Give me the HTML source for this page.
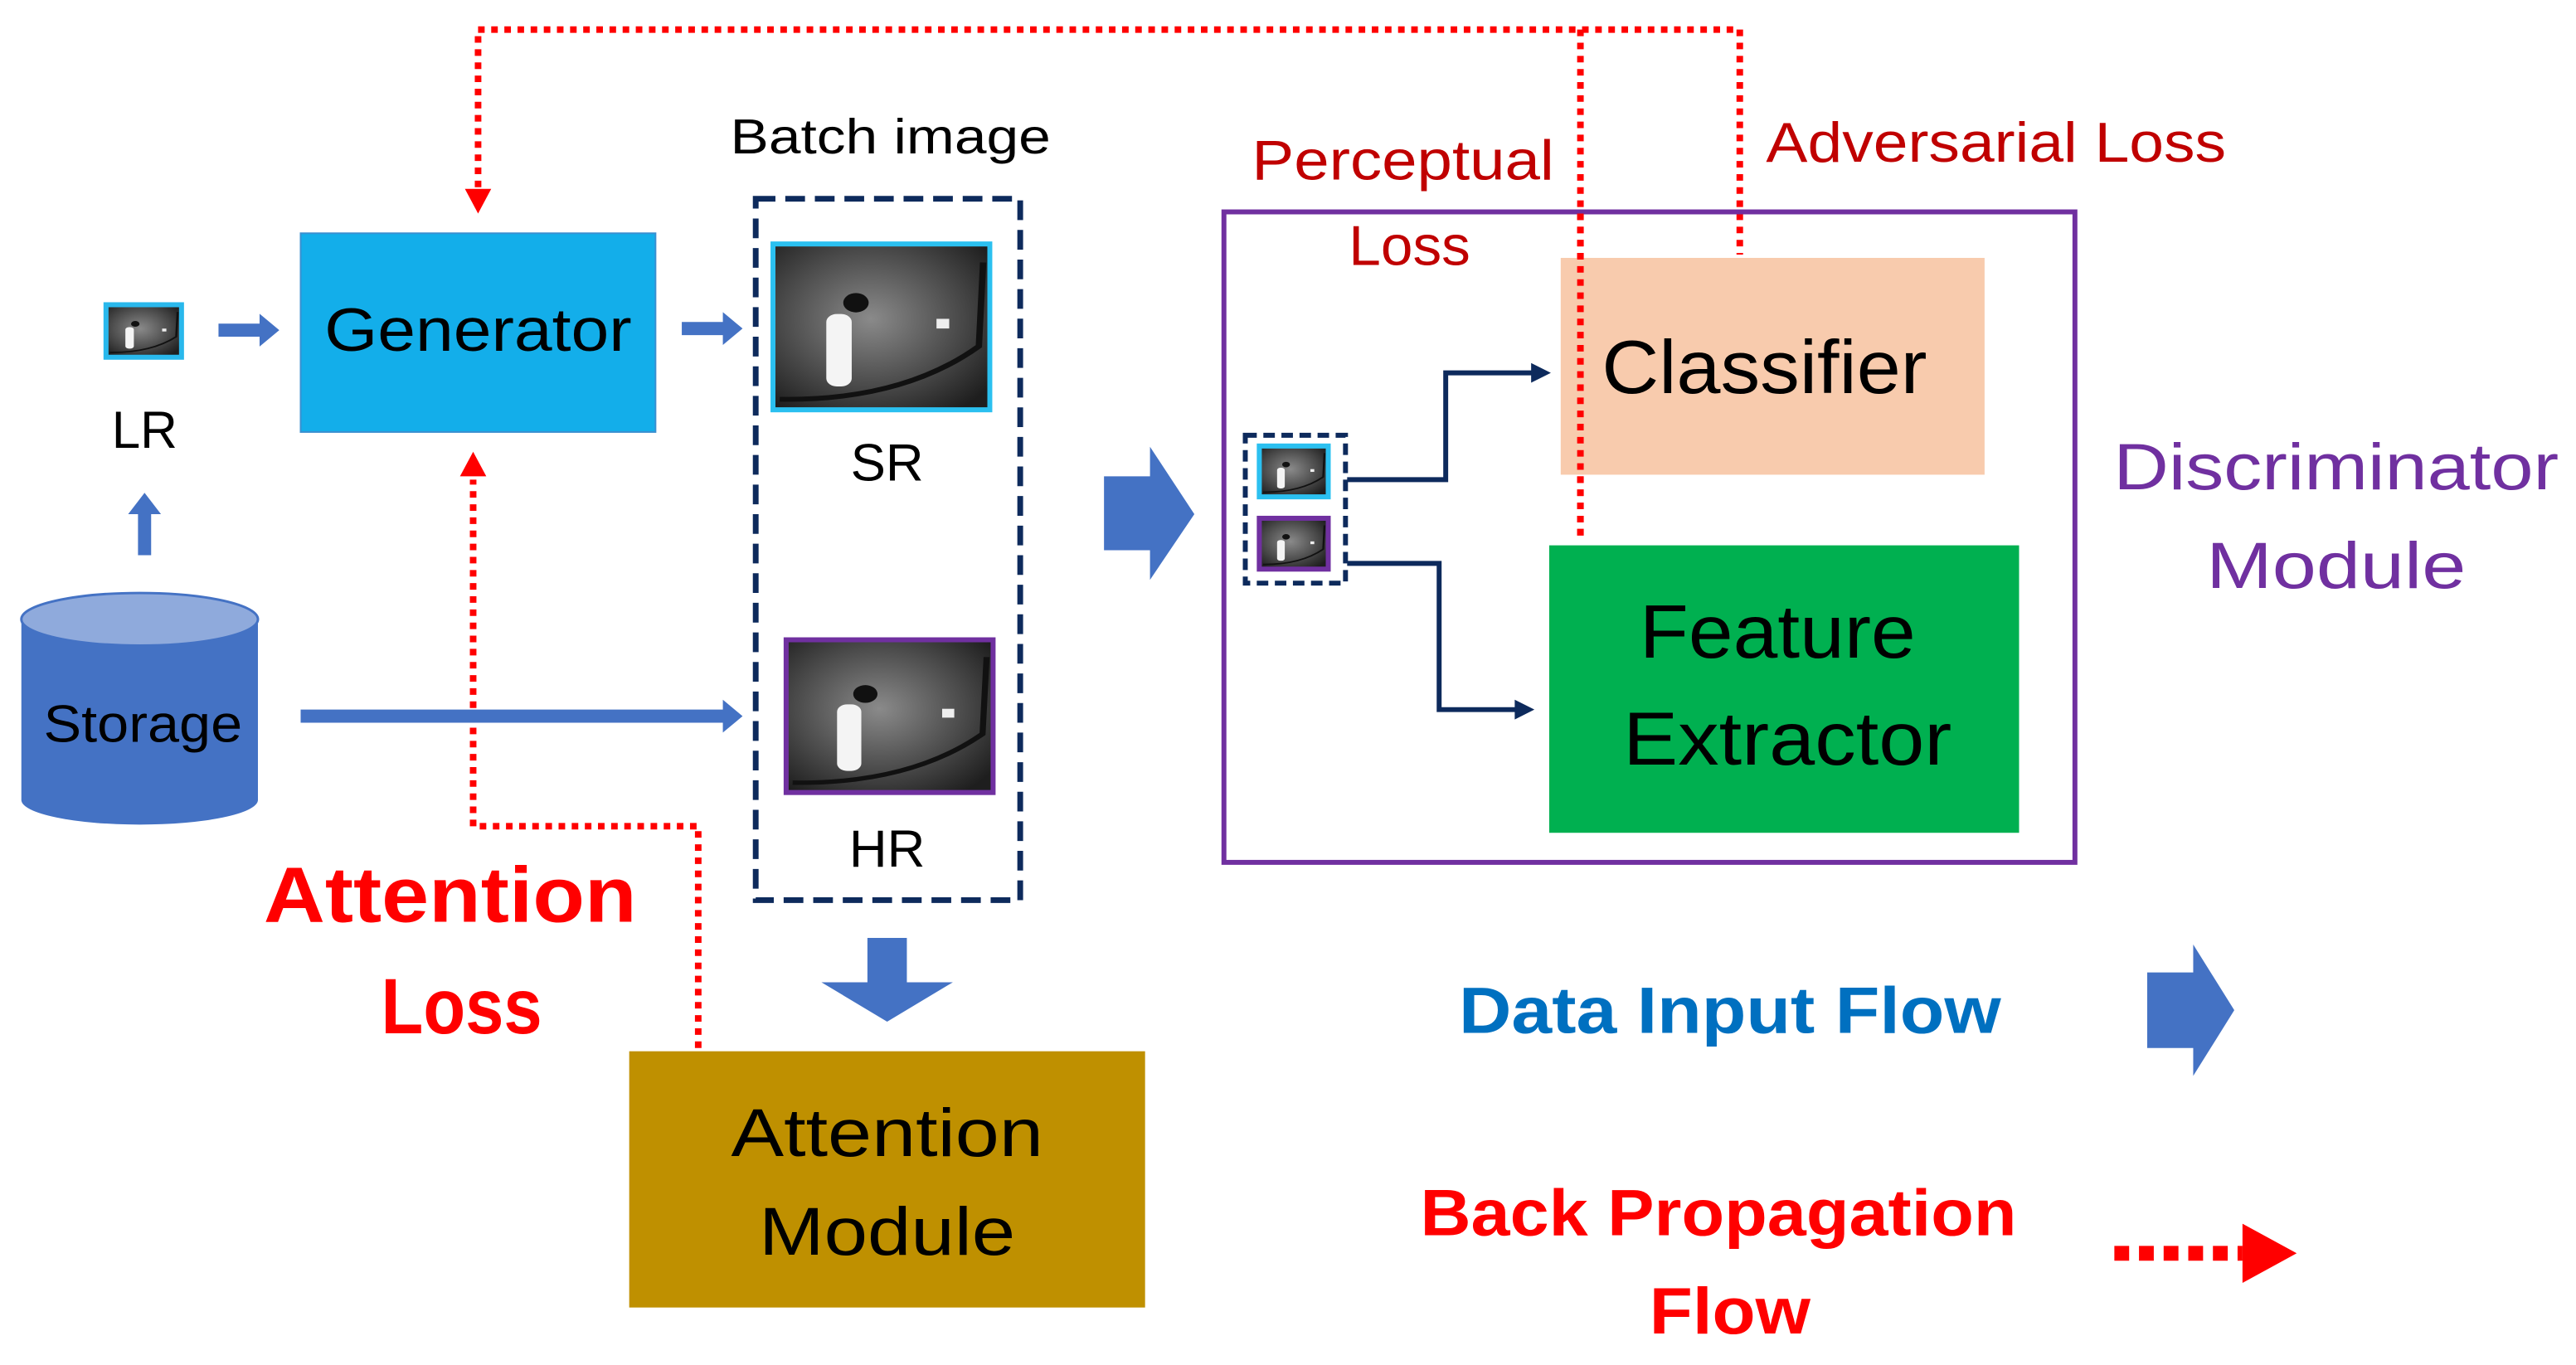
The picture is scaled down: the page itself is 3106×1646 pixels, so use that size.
<!DOCTYPE html>
<html><head><meta charset="utf-8"><style>
html,body{margin:0;padding:0;background:#fff;}
svg{display:block;}
text{font-family:"Liberation Sans",sans-serif;text-anchor:middle;dominant-baseline:central;}
</style></head><body>
<svg width="3106" height="1646" viewBox="0 0 1568 831" preserveAspectRatio="none" xmlns="http://www.w3.org/2000/svg">
<defs>
<radialGradient id="eye" cx="0.45" cy="0.45" r="0.7">
<stop offset="0" stop-color="#8a8a8a"/><stop offset="0.6" stop-color="#4a4a4a"/><stop offset="1" stop-color="#1e1e1e"/>
</radialGradient>
<g id="eyeimg">
<rect x="0" y="0" width="100" height="100" fill="url(#eye)"/>
<circle cx="38" cy="35" r="6" fill="#111"/>
<rect x="24" y="42" width="12" height="45" rx="5" fill="#f4f4f4"/>
<rect x="76" y="45" width="6" height="6" fill="#eee"/>
<path d="M2 95 Q60 96 96 62 L98 10" stroke="#111" stroke-width="3" fill="none"/>
</g>
</defs>
<rect width="1568" height="831" fill="#fff"/>

<g stroke="#ff0000" stroke-width="4" stroke-dasharray="4 4" fill="none">
<polyline points="291,122 291,18 1059,18 1059,155"/>
<line x1="962" y1="18" x2="962" y2="328"/>
<polyline points="425,638 425,503 288,503 288,292"/>
<line x1="1287" y1="763" x2="1365" y2="763" stroke-width="9" stroke-dasharray="9 6"/>
</g>
<polygon points="283,115 299,115 291,130" fill="#ff0000"/>
<polygon points="280,290 296,290 288,275" fill="#ff0000"/>
<polygon points="1365,745 1365,781 1398,763" fill="#ff0000"/>

<rect x="63" y="184" width="49" height="35" fill="#29b8ec"/>
<svg x="66" y="187" width="43" height="29" viewBox="0 0 100 100" preserveAspectRatio="none"><use href="#eyeimg"/></svg>
<text x="88" y="262" font-size="32" fill="#000" textLength="40" lengthAdjust="spacingAndGlyphs">LR</text>
<polygon points="133,197 158,197 158,191 170,201 158,211 158,205 133,205" fill="#4472c4"/>
<polygon points="84,338 92,338 92,313 98,313 88,300 78,313 84,313" fill="#4472c4"/>

<rect x="183" y="142" width="216" height="121" fill="#13aeea" stroke="#3a8fd0" stroke-width="1"/>
<text x="291" y="201" font-size="37" fill="#000" textLength="187" lengthAdjust="spacingAndGlyphs">Generator</text>
<polygon points="415,196 440,196 440,190 452,200 440,210 440,204 415,204" fill="#4472c4"/>

<path d="M13 377 L13 487 A72 15 0 0 0 157 487 L157 377" fill="#4472c4"/>
<ellipse cx="85" cy="377" rx="72" ry="16" fill="#8faadc" stroke="#4472c4" stroke-width="1.5"/>
<text x="87" y="441" font-size="32" fill="#000" textLength="121" lengthAdjust="spacingAndGlyphs">Storage</text>
<polygon points="183,432 440,432 440,426 452,436 440,446 440,440 183,440" fill="#4472c4"/>

<text x="542" y="83" font-size="30" fill="#000" textLength="195" lengthAdjust="spacingAndGlyphs">Batch image</text>
<rect x="460" y="121" width="161" height="427" fill="none" stroke="#0d2a5c" stroke-width="3.5" stroke-dasharray="12 6"/>
<rect x="469" y="147" width="135" height="104" fill="#2bc0f0"/>
<svg x="472" y="150" width="129" height="98" viewBox="0 0 100 100" preserveAspectRatio="none"><use href="#eyeimg"/></svg>
<text x="540" y="282" font-size="32" fill="#000">SR</text>
<rect x="477" y="388" width="129" height="96" fill="#7030a0"/>
<svg x="480" y="391" width="123" height="90" viewBox="0 0 100 100" preserveAspectRatio="none"><use href="#eyeimg"/></svg>
<text x="540" y="517" font-size="32" fill="#000">HR</text>
<polygon points="528,571 552,571 552,598 580,598 540,622 500,598 528,598" fill="#4472c4"/>

<rect x="383" y="640" width="314" height="156" fill="#bf9000"/>
<text x="540" y="690" font-size="41" fill="#000" textLength="190" lengthAdjust="spacingAndGlyphs">Attention</text>
<text x="540" y="750" font-size="41" fill="#000" textLength="156" lengthAdjust="spacingAndGlyphs">Module</text>
<text x="274" y="545" font-size="48" font-weight="bold" fill="#ff0000" textLength="227" lengthAdjust="spacingAndGlyphs">Attention</text>
<text x="281" y="613" font-size="48" font-weight="bold" fill="#ff0000" textLength="98" lengthAdjust="spacingAndGlyphs">Loss</text>

<polygon points="672,290 700,290 700,272 727,313 700,353 700,335 672,335" fill="#4472c4"/>

<rect x="745" y="129" width="518" height="396" fill="none" stroke="#7030a0" stroke-width="3"/>
<rect x="950" y="157" width="258" height="132" fill="#f8cbad"/>
<text x="1074" y="224" font-size="46" fill="#000" textLength="198" lengthAdjust="spacingAndGlyphs">Classifier</text>
<rect x="943" y="332" width="286" height="175" fill="#00b050"/>
<text x="1082" y="385" font-size="46" fill="#000" textLength="168" lengthAdjust="spacingAndGlyphs">Feature</text>
<text x="1088" y="450" font-size="46" fill="#000" textLength="200" lengthAdjust="spacingAndGlyphs">Extractor</text>
<line x1="962" y1="130" x2="962" y2="328" stroke="#ff0000" stroke-width="4" stroke-dasharray="4 4"/>

<rect x="758" y="265" width="61" height="90" fill="none" stroke="#0d2a5c" stroke-width="3" stroke-dasharray="7 4"/>
<rect x="765" y="270" width="45" height="34" fill="#2bc0f0"/>
<svg x="768" y="273" width="39" height="28" viewBox="0 0 100 100" preserveAspectRatio="none"><use href="#eyeimg"/></svg>
<rect x="765" y="314" width="45" height="34" fill="#7030a0"/>
<svg x="768" y="317" width="39" height="28" viewBox="0 0 100 100" preserveAspectRatio="none"><use href="#eyeimg"/></svg>
<polyline points="820,292 880,292 880,227 934,227" fill="none" stroke="#0d2a5c" stroke-width="3"/>
<polygon points="932,221 944,227 932,233" fill="#0d2a5c"/>
<polyline points="820,343 876,343 876,432 924,432" fill="none" stroke="#0d2a5c" stroke-width="3"/>
<polygon points="922,426 934,432 922,438" fill="#0d2a5c"/>

<text x="854" y="98" font-size="34" fill="#c00000" textLength="184" lengthAdjust="spacingAndGlyphs">Perceptual</text>
<text x="858" y="150" font-size="34" fill="#c00000" textLength="74" lengthAdjust="spacingAndGlyphs">Loss</text>
<text x="1215" y="87" font-size="34" fill="#c00000" textLength="280" lengthAdjust="spacingAndGlyphs">Adversarial Loss</text>
<text x="1422" y="284" font-size="40" fill="#7030a0" textLength="271" lengthAdjust="spacingAndGlyphs">Discriminator</text>
<text x="1422" y="344" font-size="40" fill="#7030a0" textLength="158" lengthAdjust="spacingAndGlyphs">Module</text>

<text x="1053" y="615" font-size="40" font-weight="bold" fill="#0070c0" textLength="330" lengthAdjust="spacingAndGlyphs">Data Input Flow</text>
<polygon points="1307,592 1335,592 1335,575 1360,615 1335,655 1335,638 1307,638" fill="#4472c4"/>
<text x="1046" y="738" font-size="40" font-weight="bold" fill="#ff0000" textLength="363" lengthAdjust="spacingAndGlyphs">Back Propagation</text>
<text x="1053" y="798" font-size="40" font-weight="bold" fill="#ff0000" textLength="98" lengthAdjust="spacingAndGlyphs">Flow</text>
</svg>
</body></html>
